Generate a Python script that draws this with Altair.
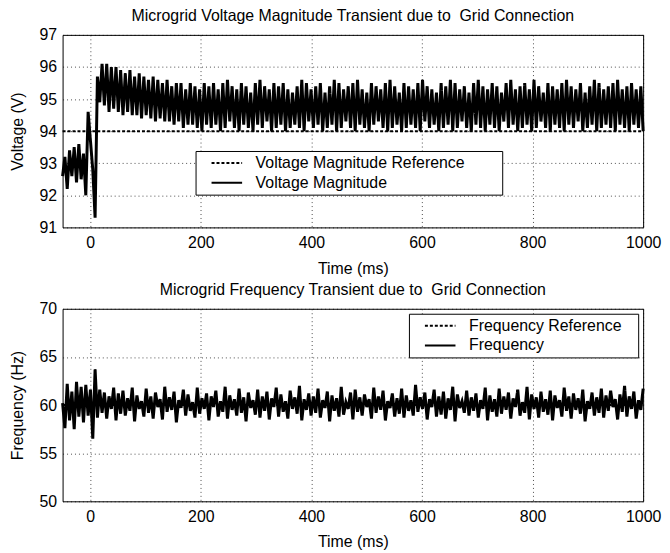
import altair as alt
import pandas as pd

# ---------------- data ----------------
t_start, t_end = -50.0, 1000.0  # ms, uniform sampling grid

# voltage before/through the connection event (first 15 samples)
voltage_pre = [92.6, 93.2, 92.2, 93.4, 92.6, 93.5, 92.4, 93.6, 92.5, 93.3,
               92.0, 94.6, 93.7, 92.8, 91.3]
# successive peaks and troughs after the connection
voltage_peaks = [95.7, 96.1, 96.1, 96.0, 96.0, 95.9, 95.8, 95.9, 95.7, 95.8,
                 95.7, 95.6, 95.7, 95.6, 95.5, 95.6, 95.4, 95.5, 95.5, 95.3,
                 95.5, 95.4, 95.3, 95.5,
                 95.4, 95.5, 95.3, 95.5, 95.6, 95.4, 95.3, 95.5, 95.4, 95.2,
                 95.5, 95.6, 95.4, 95.3, 95.5, 95.4, 95.5, 95.3, 95.2, 95.4,
                 95.6, 95.5, 95.3, 95.4, 95.5, 95.2, 95.4, 95.6, 95.5, 95.3,
                 95.4, 95.5, 95.6, 95.3, 95.2, 95.5, 95.4, 95.3, 95.5, 95.6,
                 95.4, 95.2, 95.5, 95.4, 95.3, 95.5, 95.6, 95.4, 95.3, 95.2,
                 95.5, 95.4, 95.6, 95.5, 95.3, 95.4, 95.2, 95.5, 95.6, 95.4,
                 95.3, 95.5, 95.4, 95.2, 95.5, 95.6, 95.3, 95.4, 95.5, 95.3,
                 95.6, 95.4, 95.2, 95.5, 95.4, 95.3, 95.5, 95.6, 95.4, 95.3,
                 95.5, 95.2, 95.4, 95.6, 95.5, 95.3, 95.4, 95.5, 95.6, 95.3,
                 95.4, 95.5, 95.3, 95.4]
voltage_troughs = [94.9, 94.8, 94.6, 94.7, 94.6, 94.5, 94.6, 94.5, 94.5, 94.4,
                   94.5, 94.4, 94.3, 94.4, 94.3, 94.3, 94.2, 94.3, 94.1, 94.2,
                   94.2, 94.1, 94.0, 94.2,
                   94.1, 94.2, 94.0, 94.1, 94.3, 94.1, 94.0, 94.2, 94.1, 94.0,
                   94.2, 94.1, 94.3, 94.0, 94.1, 94.2, 94.0, 94.1, 94.2, 94.1,
                   94.0, 94.3, 94.1, 94.2, 94.0, 94.1, 94.2, 94.0, 94.1, 94.3,
                   94.1, 94.0, 94.2, 94.1, 94.0, 94.2, 94.3, 94.1, 94.0, 94.1,
                   94.2, 94.0, 94.1, 94.2, 94.1, 94.0, 94.3, 94.1, 94.2, 94.0,
                   94.1, 94.2, 94.0, 94.1, 94.3, 94.1, 94.0, 94.2, 94.1, 94.0,
                   94.2, 94.1, 94.0, 94.3, 94.1, 94.2, 94.0, 94.1, 94.2, 94.0,
                   94.1, 94.3, 94.1, 94.0, 94.2, 94.1, 94.0, 94.2, 94.1, 94.3,
                   94.0, 94.1, 94.2, 94.0, 94.1, 94.2, 94.1, 94.0, 94.2, 94.1,
                   94.0, 94.2, 94.1, 94.0]
voltage_reference = 94.0

frequency_values = [
    60.2, 57.6, 62.2, 58.4, 61.4, 57.5, 62.4, 58.8, 61.9, 58.2,
    62.1, 58.9, 61.6, 56.5, 63.7, 58.7, 61.6, 59.2, 61.3, 58.6,
    60.9, 59.6, 61.8, 58.4, 61.2, 59.1,
    61.5, 58.9, 60.7, 59.4, 61.8, 58.3, 61.0, 59.6, 60.4, 58.8,
    61.7, 59.2, 60.9, 58.6, 61.3, 59.8, 60.6, 58.5, 61.9, 59.3,
    60.8, 59.5, 61.4, 58.2, 60.5, 59.7, 61.6, 58.9, 61.1, 59.4,
    60.3, 58.7, 61.8, 59.1, 60.7, 59.6, 61.2, 58.4, 60.9, 59.8,
    61.5, 58.8, 60.4, 59.3, 61.9, 58.6, 61.0, 59.5, 60.6, 58.9,
    61.7, 59.2, 60.8, 58.3, 61.3, 59.7, 60.5, 59.0, 61.6, 58.7,
    60.9, 59.4, 61.4, 58.5, 60.7, 59.8, 61.8, 58.8, 61.1, 59.3,
    60.4, 58.6, 61.5, 59.6, 60.8, 59.1, 62.0, 58.4, 60.6, 59.5,
    61.2, 58.9, 60.9, 59.2, 61.7, 58.7, 60.5, 59.7, 61.4, 58.3,
    61.0, 59.4, 60.7, 58.8, 61.9, 59.0, 60.3, 59.6, 61.3, 58.5,
    61.6, 59.3, 60.8, 58.9, 61.1, 59.8, 60.6, 58.6, 61.8, 59.2,
    60.9, 59.5, 61.5, 58.4, 60.4, 59.7, 61.2, 58.8, 60.7, 59.1,
    61.7, 58.7, 61.0, 59.4, 60.5, 58.9, 62.1, 59.3, 60.8, 59.6,
    61.3, 58.5, 60.6, 59.8, 61.6, 58.8, 60.9, 59.0, 61.4, 58.6,
    60.7, 59.5, 61.9, 58.3, 61.1, 59.7, 60.4, 59.2, 61.5, 58.9,
    60.8, 59.4, 61.2, 58.7, 60.5, 59.6, 61.8, 58.4, 61.0, 59.3,
    60.6, 58.8, 61.7, 59.1, 60.9, 59.5, 61.3, 58.6, 60.7, 59.8,
    61.6, 58.9, 60.3, 59.2, 61.9, 58.5, 61.1, 59.6, 60.8, 58.7,
    61.4, 59.3, 60.6, 59.0, 61.5, 58.4, 61.0, 59.7, 60.5, 58.8,
    61.8, 59.4, 60.9, 58.6, 61.2, 59.5, 60.7, 59.1, 61.6, 58.3,
    60.4, 59.6, 61.3, 58.9, 60.8, 59.2, 61.7, 58.7, 61.0, 59.4,
    61.5, 59.8, 60.6, 58.5, 61.1, 59.3, 62.0, 58.8, 60.9, 59.6,
    61.4, 58.6, 60.5, 59.5, 61.7]
frequency_reference = 60.0

x_ticks = [0, 200, 400, 600, 800, 1000]
v_ticks = [91, 92, 93, 94, 95, 96, 97]
f_ticks = [50, 55, 60, 65, 70]

# ---------------- build tables ----------------
voltage_values = list(voltage_pre)
for p, tr in zip(voltage_peaks, voltage_troughs):
    voltage_values += [p, tr]


def grid(n):
    return [t_start + i * (t_end - t_start) / (n - 1) for i in range(n)]


v_main = pd.DataFrame({"t": grid(len(voltage_values)), "value": voltage_values,
                       "series": "Voltage Magnitude"})
v_ref = pd.DataFrame({"t": [t_start, t_end], "value": [voltage_reference] * 2,
                      "series": "Voltage Magnitude Reference"})
f_main = pd.DataFrame({"t": grid(len(frequency_values)), "value": frequency_values,
                       "series": "Frequency"})
f_ref = pd.DataFrame({"t": [t_start, t_end], "value": [frequency_reference] * 2,
                      "series": "Frequency Reference"})

FONT = "Liberation Sans"
W, H = 585, 194
NBSP = "\u00a0"


def panel(main, ref, names, ydomain, yticks, ytitle, title, legend):
    dash = alt.StrokeDash("series:N",
                          scale=alt.Scale(domain=names, range=[[3, 2], [1, 0]]),
                          legend=legend)
    x = alt.X("t:Q", scale=alt.Scale(domain=[t_start, t_end], nice=False, zero=False),
              axis=alt.Axis(values=x_ticks, title="Time (ms)", format="d"))
    y = alt.Y("value:Q", scale=alt.Scale(domain=ydomain, nice=False, zero=False),
              axis=alt.Axis(values=yticks, title=ytitle, format="d"))
    ref_l = alt.Chart(ref).mark_line(color="black", strokeWidth=2).encode(x=x, y=y, strokeDash=dash)
    main_l = alt.Chart(main).mark_line(color="black", strokeWidth=3).encode(x=x, y=y, strokeDash=dash)
    return alt.layer(ref_l, main_l).properties(
        width=W, height=H,
        title=alt.TitleParams(title, fontSize=16, font=FONT, fontWeight="normal",
                              color="black", offset=3))


legend_common = dict(symbolType="M-2.2,0H2.2", symbolSize=196,
                     symbolStrokeWidth=2, symbolStrokeColor="black",
                     symbolOffset=19.5, labelOffset=21,
                     labelFontSize=16, labelFont=FONT, labelColor="black",
                     fillColor="white", strokeColor="black",
                     padding=4, rowPadding=4, labelLimit=400,
                     titleOrient="right", titleOpacity=0, titleFont=FONT)

# an invisible legend title on the right only widens the legend box (blank space as in the original)
top = panel(v_main, v_ref, ["Voltage Magnitude Reference", "Voltage Magnitude"],
            [91, 97], v_ticks, "Voltage (V)",
            "Microgrid Voltage Magnitude Transient due to" + NBSP + " Grid Connection",
            alt.Legend(orient="none", legendX=134, legendY=117, title="MM",
                       titleFontSize=16, titlePadding=7, **legend_common))
bottom = panel(f_main, f_ref, ["Frequency Reference", "Frequency"],
               [50, 70], f_ticks, "Frequency (Hz)",
               "Microgrid Frequency Transient due to" + NBSP + " Grid Connection",
               alt.Legend(orient="top-right", offset=5, title="M",
                          titleFontSize=9, titlePadding=5, **legend_common))

chart = alt.vconcat(top, bottom, spacing=4).resolve_scale(strokeDash="independent").properties(
    padding={"top": -3, "left": 0, "right": 0, "bottom": 0}
).configure_view(stroke="black", strokeWidth=1).configure_axis(
    grid=True, gridColor="black", gridDash=[1, 3], gridOpacity=0.7, gridWidth=1,
    domain=False, ticks=False, labelFlush=False,
    labelFontSize=16, titleFontSize=16, labelFont=FONT, titleFont=FONT,
    labelColor="black", titleColor="black", titleFontWeight="normal"
).configure_axisX(labelPadding=7, titlePadding=10).configure_axisY(
    labelPadding=6, titlePadding=14)

chart.save("out.html", embed_options={"renderer": "svg", "actions": False})
